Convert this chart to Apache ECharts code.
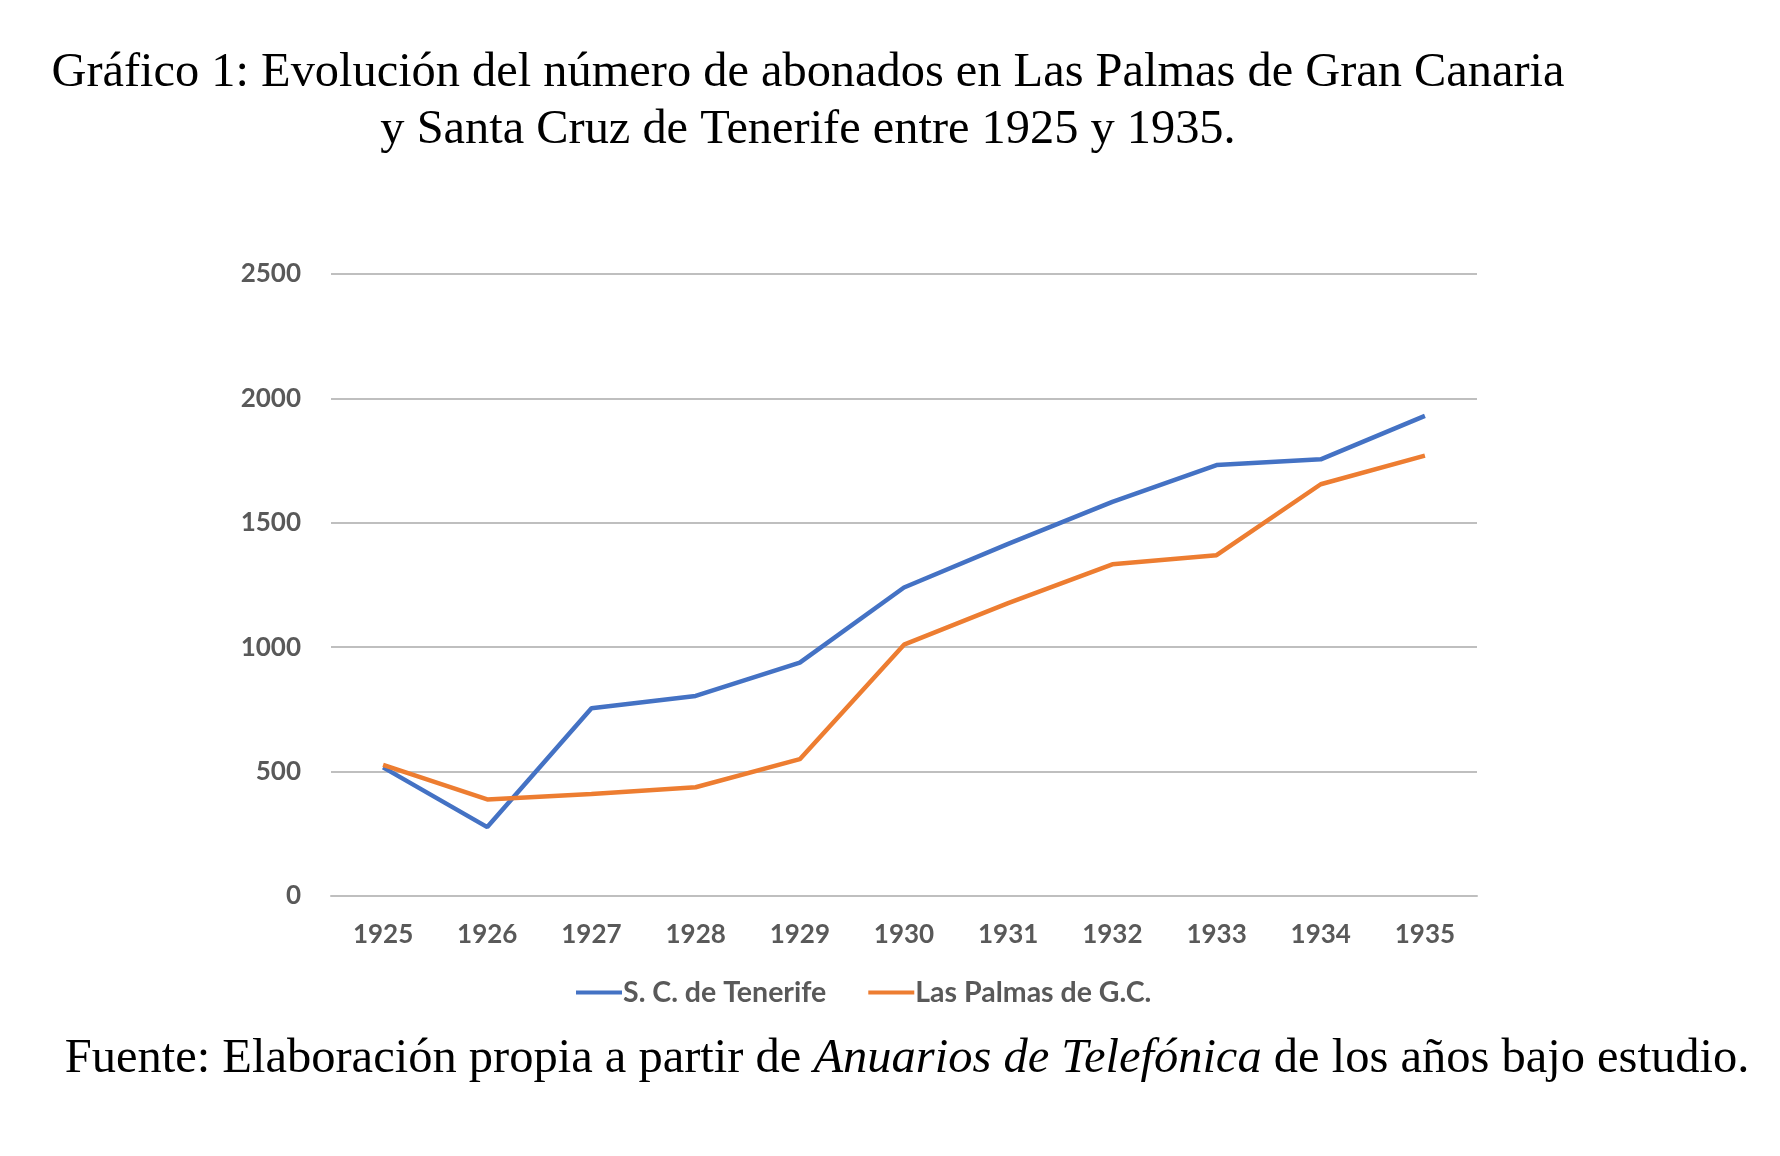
<!DOCTYPE html>
<html>
<head>
<meta charset="utf-8">
<script src="https://cdn.jsdelivr.net/npm/echarts@6/dist/echarts.min.js"></script>
<style>
	html, body { margin: 0; padding: 0; background: #fff; }
	#chart { width: 1780px; height: 1156px; }
</style>
</head>
<body>
<div id="chart"></div>
<script>
var years = ['1925', '1926', '1927', '1928', '1929', '1930', '1931', '1932', '1933', '1934', '1935'];
var tenerife = [517, 277, 755, 804, 938, 1240, 1415, 1584, 1732, 1755, 1930];
var lasPalmas = [527, 388, 410, 437, 550, 1010, 1177, 1333, 1370, 1655, 1770];
var seriesNames = ['S. C. de Tenerife', 'Las Palmas de G.C.'];

var myChart = echarts.init(document.getElementById('chart'));
var labelFont = 'Lato';
var option = {
	backgroundColor: '#fff',
	animation: false,
	title: [
		{
			text: 'Gráfico 1: Evolución del número de abonados en Las Palmas de Gran Canaria\ny Santa Cruz de Tenerife entre 1925 y 1935.',
			left: 803,
			top: 40,
			textAlign: 'center',
			textStyle: {
				fontFamily: 'Liberation Serif',
				fontWeight: 'normal',
				fontSize: 48.4,
				lineHeight: 57,
				color: '#000'
			}
		},
		{
			text: 'Fuente: Elaboración propia a partir de {i|Anuarios de Telefónica} de los años bajo estudio.',
			left: 902,
			top: 1030,
			textAlign: 'center',
			textStyle: {
				fontFamily: 'Liberation Serif',
				fontWeight: 'normal',
				fontSize: 48.5,
				color: '#000',
				rich: {
					i: {
						fontFamily: 'Liberation Serif',
						fontStyle: 'italic',
						fontSize: 48.5,
						color: '#000'
					}
				}
			}
		}
	],
	legend: {
		data: seriesNames,
		left: 571,
		top: 973,
		icon: 'rect',
		itemWidth: 46,
		itemHeight: 4,
		itemGap: 42,
		textStyle: {
			fontFamily: labelFont,
			fontSize: 28.5,
			fontWeight: 'bold',
			color: '#595959',
			padding: [0, 0, 0, -4]
		}
	},
	grid: {
		left: 331,
		right: 303,
		top: 274,
		bottom: 260,
		containLabel: false
	},
	xAxis: {
		type: 'category',
		data: years,
		boundaryGap: true,
		axisLine: { show: true, lineStyle: { color: '#bfbfbf', width: 2 } },
		axisTick: { show: false },
		axisLabel: {
			fontFamily: labelFont,
			fontSize: 26,
			fontWeight: 'bold',
			color: '#595959',
			margin: 26
		}
	},
	yAxis: {
		type: 'value',
		min: 0,
		max: 2500,
		interval: 500,
		axisLine: { show: false },
		axisTick: { show: false },
		splitLine: { lineStyle: { color: '#bfbfbf', width: 2 } },
		axisLabel: {
			fontFamily: labelFont,
			fontSize: 26,
			fontWeight: 'bold',
			color: '#595959',
			margin: 30,
			formatter: function (v) { return String(v); }
		}
	},
	series: [
		{
			name: seriesNames[0],
			type: 'line',
			data: tenerife,
			symbol: 'none',
			itemStyle: { color: '#4472C4' },
			lineStyle: { color: '#4472C4', width: 4.5 }
		},
		{
			name: seriesNames[1],
			type: 'line',
			data: lasPalmas,
			symbol: 'none',
			itemStyle: { color: '#ED7D31' },
			lineStyle: { color: '#ED7D31', width: 4.5 }
		}
	]
};
myChart.setOption(option);
</script>
</body>
</html>
